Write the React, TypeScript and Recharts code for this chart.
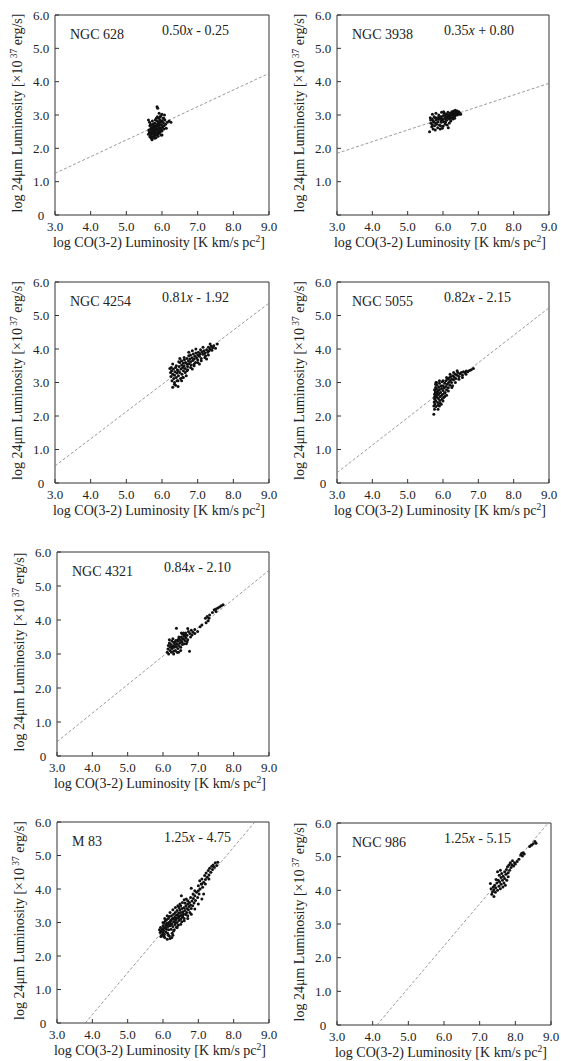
import { ScatterChart, Scatter, XAxis, YAxis } from "recharts";

type Pt = [number, number];

const galaxies = ["NGC 628", "NGC 3938", "NGC 4254", "NGC 5055", "NGC 4321", "M 83", "NGC 986"];
const slopes = [0.5, 0.35, 0.81, 0.82, 0.84, 1.25, 1.25];
const intercepts = [-0.25, 0.8, -1.92, -2.15, -2.1, -4.75, -5.15];
const xTicks = [3, 4, 5, 6, 7, 8, 9];
const yTicks = [0, 1, 2, 3, 4, 5, 6];

// log CO(3-2) vs log 24um
const ngc628: Pt[] = [
  [5.62, 2.85], [5.65, 2.78], [5.63, 2.55], [5.66, 2.45], [5.68, 2.38], [5.7, 2.3], [5.72, 2.26], [5.7, 2.62],
  [5.72, 2.7], [5.74, 2.52], [5.75, 2.6], [5.76, 2.44], [5.78, 2.68], [5.78, 2.36], [5.8, 2.55], [5.8, 2.75],
  [5.82, 2.48], [5.82, 2.62], [5.84, 2.9], [5.84, 2.4], [5.85, 2.7], [5.86, 3.25], [5.88, 3.2], [5.87, 2.58],
  [5.88, 2.5], [5.9, 2.8], [5.9, 2.66], [5.92, 2.45], [5.92, 3.05], [5.93, 2.72], [5.94, 2.56], [5.95, 2.95],
  [5.96, 2.62], [5.97, 2.4], [5.98, 2.82], [5.99, 2.7], [6.0, 2.52], [6.0, 3.02], [6.02, 2.64], [6.03, 2.9],
  [6.04, 2.76], [6.05, 2.58], [6.06, 2.68], [6.08, 2.85], [6.1, 2.72], [6.12, 2.6], [6.15, 2.78], [6.2, 2.82],
  [6.25, 2.78], [5.68, 2.58], [5.7, 2.48], [5.74, 2.34], [5.76, 2.74], [5.79, 2.3], [5.83, 2.32], [5.86, 2.42],
  [5.89, 2.36], [5.91, 2.9], [5.95, 2.5], [5.66, 2.68], [5.64, 2.5], [5.73, 2.82], [5.81, 2.85], [5.97, 2.98],
  [6.01, 2.82], [6.07, 3.0], [5.77, 2.56], [5.84, 2.56], [5.88, 2.74], [5.93, 2.62], [5.69, 2.42], [5.75, 2.66],
  [5.62, 2.42], [5.87, 2.95], [6.0, 2.4], [5.71, 2.54], [5.79, 2.62], [5.83, 2.66], [5.9, 2.55], [5.96, 2.78],
  [5.72, 2.6], [5.78, 2.5], [5.85, 2.6], [5.92, 2.7], [5.68, 2.72], [5.74, 2.45], [5.8, 2.42], [5.86, 2.82],
  [5.94, 2.85], [6.05, 2.9], [5.98, 2.58], [5.66, 2.35], [5.71, 2.36], [5.9, 2.45],
];

const ngc3938: Pt[] = [
  [5.62, 2.5], [5.64, 2.92], [5.65, 2.85], [5.66, 2.75], [5.68, 2.65], [5.7, 3.02], [5.7, 2.88], [5.72, 2.58],
  [5.74, 2.78], [5.75, 2.95], [5.76, 2.68], [5.78, 2.55], [5.8, 2.85], [5.8, 3.05], [5.82, 2.72], [5.84, 2.92],
  [5.85, 2.62], [5.86, 2.8], [5.88, 3.0], [5.9, 2.7], [5.9, 2.88], [5.92, 2.58], [5.94, 2.95], [5.95, 2.78],
  [5.96, 3.08], [5.98, 2.86], [6.0, 2.66], [6.0, 2.98], [6.02, 2.8], [6.04, 3.05], [6.05, 2.9], [6.06, 2.72],
  [6.08, 2.95], [6.1, 3.02], [6.1, 2.84], [6.12, 2.92], [6.14, 3.08], [6.15, 2.62], [6.16, 2.98], [6.18, 2.88],
  [6.2, 3.05], [6.2, 2.95], [6.22, 2.82], [6.24, 3.0], [6.25, 3.1], [6.26, 2.92], [6.28, 3.02], [6.3, 2.96],
  [6.3, 3.12], [6.32, 3.05], [6.34, 2.98], [6.35, 3.14], [6.36, 3.04], [6.38, 3.1], [6.4, 3.0], [6.42, 3.06],
  [6.45, 3.02], [6.48, 3.05], [6.5, 3.02], [5.98, 2.6], [6.12, 2.7], [6.07, 2.78], [5.87, 2.88], [5.93, 2.68],
  [6.18, 2.76], [6.22, 2.9], [6.02, 3.1], [5.78, 2.92], [5.72, 2.82], [6.15, 3.0], [6.28, 2.88], [6.33, 2.9],
  [5.96, 2.9], [6.08, 2.88], [5.9, 2.95], [6.0, 2.85], [6.05, 3.0], [6.1, 2.95], [6.15, 2.9], [6.2, 3.0],
  [6.25, 3.05], [6.3, 3.05], [6.35, 3.08], [5.85, 2.9], [5.95, 2.84], [5.8, 2.75], [5.7, 2.7], [6.4, 3.12],
  [6.45, 3.1],
];

const ngc4254: Pt[] = [
  [6.22, 3.42], [6.24, 3.3], [6.25, 3.18], [6.27, 3.35], [6.28, 3.05], [6.3, 2.86], [6.3, 3.25], [6.32, 3.4],
  [6.33, 3.12], [6.35, 3.22], [6.36, 3.32], [6.38, 2.92], [6.38, 3.45], [6.4, 3.15], [6.42, 3.28], [6.43, 3.38],
  [6.45, 2.88], [6.45, 3.05], [6.46, 3.2], [6.48, 3.48], [6.5, 3.3], [6.5, 3.6], [6.52, 3.12], [6.53, 3.4],
  [6.55, 3.52], [6.56, 3.25], [6.58, 3.45], [6.6, 3.58], [6.6, 3.35], [6.62, 3.5], [6.63, 3.68], [6.65, 3.42],
  [6.66, 3.6], [6.68, 3.2], [6.7, 3.55], [6.7, 3.72], [6.72, 3.48], [6.74, 3.64], [6.75, 3.8], [6.76, 3.56],
  [6.78, 3.7], [6.8, 3.62], [6.8, 3.82], [6.82, 3.52], [6.84, 3.74], [6.86, 3.66], [6.88, 3.85], [6.9, 3.7],
  [6.92, 3.78], [6.94, 3.6], [6.95, 3.88], [6.97, 3.74], [7.0, 3.82], [7.0, 3.68], [7.02, 3.9], [7.05, 3.78],
  [7.07, 3.86], [7.1, 3.72], [7.12, 3.92], [7.15, 3.84], [7.18, 3.95], [7.2, 3.88], [7.22, 3.8], [7.25, 3.98],
  [7.28, 3.9], [7.3, 4.05], [7.32, 3.95], [7.35, 4.0], [7.38, 4.08], [7.4, 3.96], [7.42, 4.04], [7.45, 4.1],
  [7.5, 4.02], [7.55, 4.15], [6.55, 3.65], [6.4, 3.5], [6.65, 3.3], [6.35, 3.0], [6.58, 3.15], [6.72, 3.38],
  [6.9, 3.55], [6.47, 3.62], [6.62, 3.75], [6.85, 3.95], [7.08, 3.98], [6.26, 3.45], [6.42, 3.05],
  [6.6, 3.15], [6.7, 3.35], [6.8, 3.45], [6.9, 3.5], [7.0, 3.6], [7.1, 3.65], [7.2, 3.75], [7.3, 3.82],
  [6.75, 3.9], [6.95, 4.0], [7.15, 4.05], [7.35, 4.15], [6.5, 3.72], [6.3, 3.55], [6.35, 2.95], [6.45, 3.35],
  [6.55, 3.05], [6.85, 3.4], [7.05, 3.55], [7.25, 3.7],
];

const ngc5055: Pt[] = [
  [5.74, 2.05], [5.74, 2.3], [5.75, 2.42], [5.75, 2.55], [5.76, 2.65], [5.76, 2.78], [5.77, 2.36], [5.77, 2.5],
  [5.78, 2.6], [5.78, 2.72], [5.79, 2.85], [5.8, 2.45], [5.8, 2.28], [5.81, 2.68], [5.82, 2.56], [5.82, 2.8],
  [5.83, 2.92], [5.84, 2.62], [5.85, 2.4], [5.85, 2.74], [5.87, 2.52], [5.88, 2.86], [5.88, 2.66], [5.9, 2.98],
  [5.9, 2.78], [5.92, 2.58], [5.93, 2.7], [5.94, 2.9], [5.95, 2.35], [5.96, 2.82], [5.98, 2.64], [5.98, 3.02],
  [6.0, 2.76], [6.0, 2.9], [6.02, 2.55], [6.03, 2.84], [6.05, 2.98], [6.06, 2.7], [6.08, 3.05], [6.08, 2.88],
  [6.1, 2.78], [6.12, 2.95], [6.13, 3.1], [6.15, 2.84], [6.16, 3.0], [6.18, 3.14], [6.2, 2.92], [6.2, 3.06],
  [6.22, 3.18], [6.24, 3.0], [6.25, 3.1], [6.27, 2.9], [6.28, 3.2], [6.3, 3.08], [6.32, 3.16], [6.35, 3.25],
  [6.36, 3.12], [6.4, 3.22], [6.42, 3.3], [6.45, 3.18], [6.48, 3.26], [6.52, 3.3], [6.55, 3.22], [6.58, 3.32],
  [6.62, 3.3], [6.66, 3.34], [6.7, 3.32], [6.75, 3.36], [6.8, 3.38], [6.86, 3.42], [5.76, 2.2], [5.79, 2.95],
  [5.86, 2.32], [5.91, 2.46], [5.84, 2.7], [5.95, 2.6], [6.04, 2.68], [5.8, 3.0], [5.97, 2.5], [6.1, 2.62],
  [6.0, 3.05], [6.1, 3.15], [6.2, 3.25], [6.3, 3.3], [6.4, 3.35], [6.15, 2.75], [6.25, 2.85], [6.35, 3.0],
  [6.45, 3.1], [6.55, 3.15], [6.65, 3.25], [5.9, 3.05], [5.82, 3.0], [5.86, 2.2], [5.9, 2.3], [6.0, 2.45],
  [6.05, 2.58], [5.92, 2.38],
];

const ngc4321: Pt[] = [
  [6.12, 3.05], [6.14, 3.15], [6.15, 3.25], [6.16, 3.0], [6.18, 3.32], [6.2, 3.1], [6.2, 3.2], [6.22, 3.28],
  [6.24, 3.05], [6.25, 3.38], [6.26, 3.16], [6.28, 3.24], [6.3, 3.08], [6.3, 3.34], [6.32, 3.2], [6.34, 3.28],
  [6.35, 3.1], [6.36, 3.4], [6.38, 3.76], [6.38, 3.22], [6.4, 3.3], [6.42, 3.16], [6.43, 3.38], [6.45, 3.25],
  [6.46, 3.45], [6.48, 3.32], [6.5, 3.2], [6.5, 3.4], [6.52, 3.5], [6.54, 3.35], [6.55, 3.28], [6.56, 3.58],
  [6.58, 3.44], [6.6, 3.52], [6.6, 3.3], [6.62, 3.4], [6.64, 3.62], [6.65, 3.48], [6.68, 3.55], [6.7, 3.42],
  [6.72, 3.66], [6.75, 3.08], [6.76, 3.6], [6.8, 3.7], [6.82, 3.56], [6.85, 3.64], [6.9, 3.72], [6.98, 3.66],
  [7.05, 3.8], [7.1, 3.85], [7.2, 4.05], [7.22, 3.92], [7.25, 4.1], [7.28, 3.98], [7.32, 4.15], [7.4, 4.22],
  [7.45, 4.3], [7.5, 4.25], [7.55, 4.35], [7.6, 4.38], [7.65, 4.42], [7.7, 4.45], [6.28, 3.45], [6.44, 3.05],
  [6.18, 3.42], [6.52, 3.62], [6.66, 3.3], [6.7, 3.75], [6.3, 3.0], [6.4, 3.05], [6.5, 3.1], [6.45, 3.5],
  [6.55, 3.45], [6.62, 3.55], [6.68, 3.35], [6.58, 3.62], [6.78, 3.5], [6.35, 3.35], [6.25, 3.2], [6.42, 3.42],
  [6.9, 3.6], [7.3, 4.05], [7.5, 4.32],
];

const m83: Pt[] = [
  [5.9, 2.78], [5.92, 2.7], [5.93, 2.85], [5.95, 2.74], [5.96, 2.62], [5.98, 2.8], [6.0, 2.7], [6.0, 2.9],
  [6.02, 2.76], [6.03, 2.98], [6.04, 2.64], [6.05, 2.84], [6.06, 3.04], [6.08, 2.72], [6.08, 2.92], [6.1, 2.8],
  [6.1, 3.08], [6.12, 2.98], [6.13, 2.68], [6.14, 2.88], [6.15, 3.12], [6.16, 2.78], [6.17, 3.0], [6.18, 2.6],
  [6.18, 3.18], [6.2, 2.9], [6.2, 2.52], [6.22, 3.06], [6.23, 2.8], [6.24, 3.2], [6.25, 2.96], [6.26, 2.68],
  [6.27, 3.12], [6.28, 2.88], [6.3, 3.25], [6.3, 3.02], [6.32, 2.78], [6.33, 3.16], [6.34, 2.94], [6.35, 3.3],
  [6.36, 3.08], [6.38, 2.86], [6.38, 3.22], [6.4, 3.0], [6.4, 3.36], [6.42, 3.14], [6.43, 2.92], [6.44, 3.28],
  [6.45, 3.06], [6.47, 3.2], [6.48, 3.38], [6.5, 3.1], [6.5, 3.3], [6.52, 3.22], [6.53, 3.02], [6.54, 3.42],
  [6.55, 3.16], [6.56, 3.32], [6.58, 3.26], [6.6, 3.44], [6.6, 3.12], [6.62, 3.36], [6.64, 3.24], [6.65, 3.5],
  [6.66, 3.7], [6.67, 3.3], [6.68, 3.42], [6.7, 3.55], [6.7, 3.2], [6.72, 3.38], [6.74, 3.48], [6.75, 3.6],
  [6.76, 3.3], [6.78, 3.52], [6.8, 3.42], [6.8, 4.02], [6.82, 3.64], [6.84, 3.5], [6.86, 3.72], [6.88, 3.58],
  [6.9, 3.8], [6.92, 3.66], [6.95, 3.9], [6.98, 3.75], [7.0, 4.1], [7.02, 3.85], [7.04, 4.25], [7.05, 4.0],
  [7.08, 4.15], [7.1, 4.3], [7.12, 4.05], [7.15, 4.2], [7.18, 4.4], [7.2, 4.28], [7.22, 4.48], [7.25, 4.35],
  [7.28, 4.55], [7.3, 4.42], [7.32, 4.62], [7.35, 4.5], [7.38, 4.68], [7.4, 4.58], [7.42, 4.72], [7.45, 4.65],
  [7.48, 4.78], [7.52, 4.7], [7.55, 4.8], [6.52, 3.8], [6.6, 3.68], [6.48, 3.55], [5.94, 2.58], [6.05, 2.55],
  [6.12, 2.5], [6.28, 2.62], [6.0, 2.66], [6.1, 2.94], [6.22, 2.94], [6.35, 3.0], [6.45, 3.15], [6.25, 3.1],
  [6.15, 2.95], [6.08, 2.84], [6.32, 3.1], [6.42, 3.22], [6.56, 3.2], [6.02, 2.84], [6.2, 3.02], [6.38, 3.12],
  [6.0, 3.0], [6.05, 3.12], [6.12, 3.2], [6.2, 3.3], [6.28, 3.38], [6.35, 3.45], [6.42, 3.5], [6.5, 3.5],
  [6.62, 3.58], [6.7, 3.65], [6.78, 3.75], [6.85, 3.85], [6.9, 3.95], [7.0, 3.95], [7.1, 4.15], [7.2, 4.15],
  [7.3, 4.3], [6.02, 2.58], [6.15, 2.62], [6.3, 2.75], [6.4, 2.85], [6.5, 2.95], [6.6, 3.05], [6.7, 3.12],
  [6.8, 3.25], [6.9, 3.4], [7.0, 3.55], [7.1, 3.7], [7.15, 3.85], [6.25, 2.55], [6.55, 3.6], [6.45, 3.45],
];

const ngc986: Pt[] = [
  [7.3, 4.2], [7.32, 4.05], [7.34, 3.88], [7.36, 3.96], [7.38, 4.1], [7.4, 3.82], [7.4, 4.02], [7.42, 4.15],
  [7.44, 3.94], [7.45, 4.08], [7.48, 4.22], [7.5, 4.0], [7.52, 4.3], [7.54, 4.12], [7.55, 4.45], [7.56, 4.25],
  [7.58, 4.05], [7.6, 4.38], [7.6, 4.18], [7.62, 4.5], [7.64, 4.3], [7.65, 4.1], [7.66, 4.42], [7.68, 4.22],
  [7.7, 4.55], [7.7, 4.35], [7.72, 4.15], [7.74, 4.48], [7.75, 4.62], [7.76, 4.3], [7.78, 4.7], [7.8, 4.52],
  [7.8, 4.4], [7.82, 4.75], [7.84, 4.6], [7.86, 4.82], [7.88, 4.68], [7.9, 4.76], [7.92, 4.88], [7.95, 4.72],
  [7.98, 4.82], [8.0, 4.78], [8.05, 4.86], [8.1, 4.92], [8.15, 5.05], [8.18, 5.1], [8.2, 5.02], [8.22, 5.12],
  [8.25, 5.08], [8.4, 5.3], [8.45, 5.34], [8.5, 5.38], [8.55, 5.45], [8.58, 5.4], [7.5, 4.55], [7.46, 4.32],
  [7.58, 4.6],
];

const series = [ngc628, ngc3938, ngc4254, ngc5055, ngc4321, m83, ngc986];

// plot boxes on the page: left, top, width, height
const boxes = [
  [55, 15, 214, 200],
  [337, 15, 212, 200],
  [55, 282, 214, 201],
  [337, 282, 212, 201],
  [57, 552, 212, 204],
  [57, 822, 212, 201],
  [337, 823, 214, 202],
];

const PX = 55;
const PY = 15;
const PR = 12;
const PB = 45;
const INK = "#222";
const FRAME = "#333";

// ends of the fitted line, cut at the plot box
const fitEnds = (a: number, b: number) =>
  [3, 9].map((x) => {
    const y = a * x + b;
    if (y < 0) return { x: -b / a, y: 0 };
    if (y > 6) return { x: (6 - b) / a, y: 6 };
    return { x, y };
  });

const fmt = (v: number) => (v === 0 ? "0" : v.toFixed(1));

function Panel({ i }: { i: number }) {
  const [L, T, W, H] = boxes[i];
  const pts = series[i].map(([x, y]) => ({ x, y }));
  const a = slopes[i];
  const b = intercepts[i];
  const tickStyle = { fontSize: 13, fill: INK, fontFamily: "Liberation Serif" };
  const yCx = PX - 33;
  const yCy = PY + H / 2 - 2;

  return (
    <div style={{ position: "absolute", left: L - PX, top: T - PY }}>
      <ScatterChart
        width={PX + W + PR}
        height={PY + H + PB}
        margin={{ top: PY - 1, right: PR - 1, bottom: PB - 40, left: PX - 40 }}
      >
        <XAxis
          type="number"
          dataKey="x"
          domain={[3, 9]}
          ticks={xTicks}
          tickFormatter={fmt}
          height={40}
          tickSize={-4}
          tickMargin={11}
          stroke={FRAME}
          tick={tickStyle}
          allowDataOverflow
        />
        <YAxis
          type="number"
          dataKey="y"
          domain={[0, 6]}
          ticks={yTicks}
          tickFormatter={(v: number) => (i === 1 && v === 0 ? "" : fmt(v))}
          width={40}
          tickSize={-4}
          tickMargin={18}
          stroke={FRAME}
          tick={{ ...tickStyle, textAnchor: "middle" }}
          allowDataOverflow
        />
        <XAxis
          xAxisId="top"
          orientation="top"
          type="number"
          domain={[3, 9]}
          ticks={xTicks}
          height={1}
          tickSize={-4}
          tick={false}
          stroke={FRAME}
        />
        <YAxis
          yAxisId="right"
          orientation="right"
          type="number"
          domain={[0, 6]}
          ticks={yTicks}
          width={1}
          tickSize={-4}
          tick={false}
          stroke={FRAME}
        />
        <Scatter
          data={fitEnds(a, b)}
          line={{ stroke: "#808080", strokeWidth: 0.8, strokeDasharray: "3 2" }}
          shape={() => <g />}
          isAnimationActive={false}
        />
        <Scatter
          data={pts}
          fill="#111"
          shape={(p: any) => <circle cx={p.cx} cy={p.cy} r={1.5} fill="#111" />}
          isAnimationActive={false}
        />
        <text x={PX + 15} y={PY + 24} fontSize={14} fill={INK}>
          {galaxies[i]}
        </text>
        <text x={PX + 107} y={PY + 20} fontSize={14} fill={INK}>
          {a.toFixed(2)}
          <tspan fontStyle="italic">x</tspan>
          {` ${b < 0 ? "-" : "+"} ${Math.abs(b).toFixed(2)}`}
        </text>
        <text x={PX + W / 2 - 3} y={PY + H + 32} fontSize={14} fill={INK} textAnchor="middle">
          log CO(3-2) Luminosity [K km/s pc<tspan dy={-5} fontSize={9.5}>2</tspan>
          <tspan dy={5}>]</tspan>
        </text>
        <text
          x={yCx}
          y={yCy}
          transform={`rotate(-90 ${yCx} ${yCy})`}
          fontSize={14}
          fill={INK}
          textAnchor="middle"
        >
          log 24μm Luminosity [×10<tspan dy={-5} fontSize={9.5}> 37</tspan>
          <tspan dy={5}> erg/s]</tspan>
        </text>
      </ScatterChart>
    </div>
  );
}

export default function App() {
  return (
    <div
      style={{
        position: "absolute",
        left: 0,
        top: 0,
        width: 561,
        height: 1061,
        background: "#fff",
        fontFamily: '"Liberation Serif", "Times New Roman", serif',
      }}
    >
      {series.map((_, i) => (
        <Panel key={galaxies[i]} i={i} />
      ))}
    </div>
  );
}
